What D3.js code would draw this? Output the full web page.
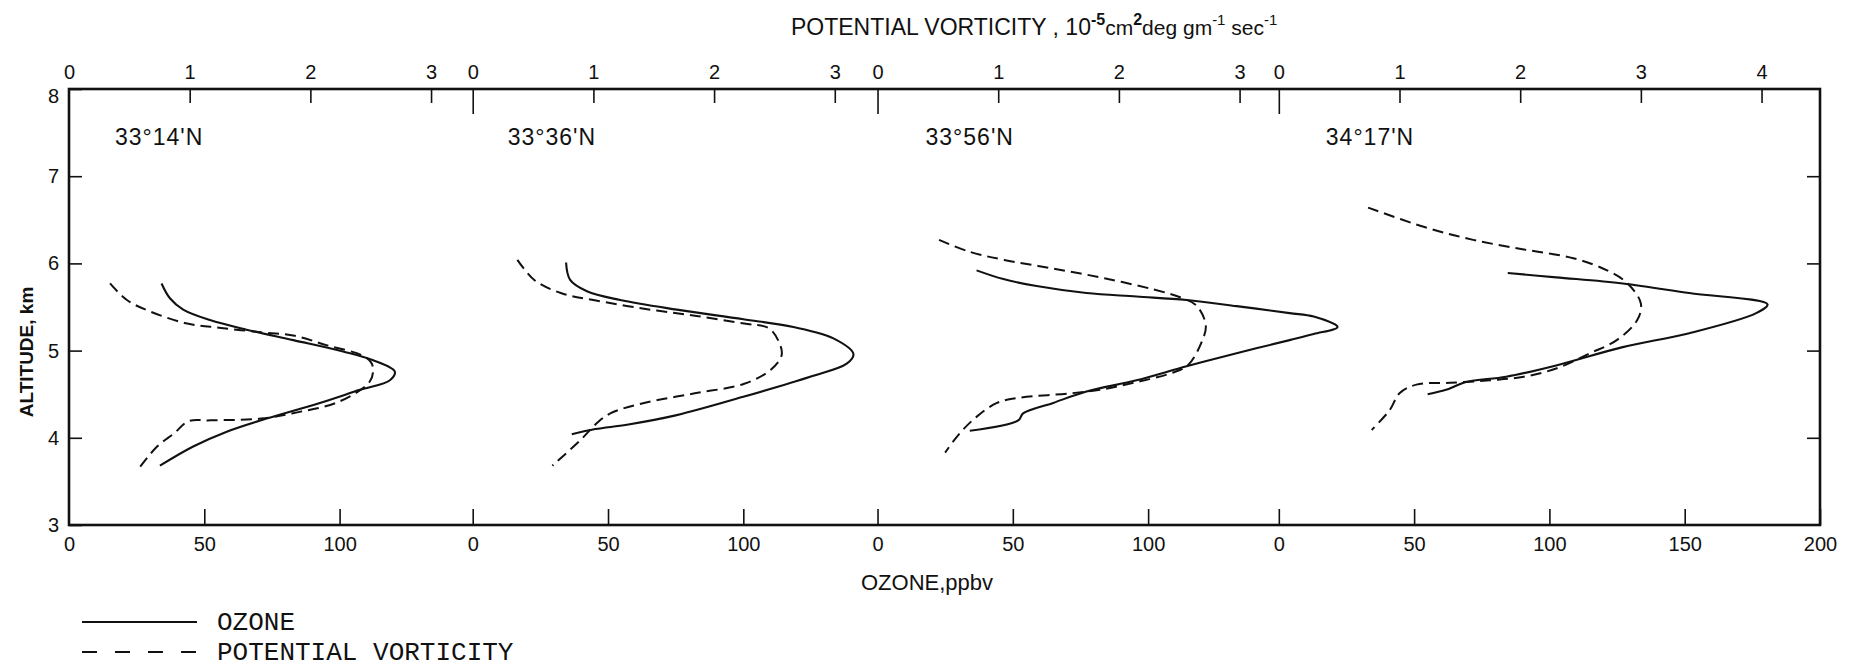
<!DOCTYPE html>
<html>
<head>
<meta charset="utf-8">
<script src="https://cdn.jsdelivr.net/npm/d3@7"></script>
<style>
  body { margin: 0; background: #fff; }
  svg { display: block; }
</style>
</head>
<body>
<svg id="chart" width="1857" height="668"></svg>
<script>
// Sounding stations, west to east
const stations = ["33°14'N", "33°36'N", "33°56'N", "34°17'N"];

// Ozone value (ppbv) on the shared strip where each station's zero sits
const panelStart = [0, 149.2, 298.8, 447.1];
const stripEnd = 647.1;
// ppbv width of one potential-vorticity unit on the common strip
const ppbvPerPv = 44.6;

const ozoneTicks = [[0, 50, 100], [0, 50, 100], [0, 50, 100], [0, 50, 100, 150, 200]];
const pvTicks = [[0, 1, 2, 3], [0, 1, 2, 3], [0, 1, 2, 3], [0, 1, 2, 3, 4]];
const altitudeTicks = [3, 4, 5, 6, 7, 8];

// Profiles: [value, altitude km]; ozone in ppbv, PV in 10^-5 cm2 deg g-1 s-1
const ozone3314 = [[34.2,5.77],[37.3,5.60],[42.2,5.47],[52.1,5.35],[65.6,5.24],[82.9,5.12],[101.3,4.99],[112.4,4.89],[120.4,4.76],[118.6,4.66],[107.5,4.55],[92.7,4.40],[73.0,4.22],[58.3,4.07],[45.9,3.90],[33.6,3.68]];
const pv3314 = [[0.34,5.77],[0.48,5.58],[0.67,5.45],[0.98,5.31],[1.26,5.26],[1.59,5.21],[1.87,5.17],[2.14,5.06],[2.42,4.95],[2.50,4.87],[2.52,4.78],[2.49,4.64],[2.23,4.41],[1.92,4.30],[1.59,4.22],[1.17,4.20],[0.99,4.19],[0.87,4.05],[0.73,3.90],[0.58,3.65]];

const ozone3336 = [[34.5,6.01],[36.0,5.81],[42.2,5.68],[54.5,5.58],[75.4,5.47],[100.0,5.36],[118.5,5.27],[133.3,5.14],[140.7,4.96],[138.2,4.85],[124.7,4.70],[100.0,4.47],[75.4,4.26],[57.0,4.15],[45.3,4.10],[36.6,4.04]];
const pv3336 = [[0.37,6.04],[0.51,5.81],[0.73,5.66],[1.00,5.58],[1.42,5.48],[1.84,5.40],[2.25,5.31],[2.45,5.26],[2.53,5.12],[2.56,4.95],[2.47,4.78],[2.25,4.62],[1.84,4.51],[1.42,4.40],[1.14,4.28],[1.03,4.17],[0.89,3.97],[0.66,3.68]];

const ozone3356 = [[36.6,5.92],[46.5,5.82],[58.8,5.74],[77.2,5.66],[95.7,5.62],[114.2,5.58],[132.7,5.51],[152.3,5.43],[161.2,5.39],[170.0,5.27],[161.2,5.19],[152.3,5.12],[132.7,4.97],[114.2,4.82],[95.7,4.66],[77.2,4.53],[64.9,4.40],[53.8,4.28],[52.0,4.20],[34.1,4.08]];
const pv3356 = [[0.51,6.27],[0.77,6.13],[1.05,6.04],[1.46,5.94],[1.88,5.83],[2.29,5.70],[2.49,5.62],[2.64,5.52],[2.72,5.29],[2.68,5.08],[2.57,4.83],[2.43,4.74],[2.15,4.64],[1.88,4.56],[1.60,4.51],[1.18,4.46],[0.99,4.40],[0.82,4.24],[0.68,4.05],[0.56,3.83]];

const ozone3417 = [[84.6,5.89],[102.5,5.84],[127.1,5.77],[151.7,5.66],[180.6,5.53],[176.4,5.43],[151.7,5.20],[127.1,5.04],[102.5,4.83],[84.0,4.70],[69.2,4.64],[61.8,4.55],[55.0,4.50]];
const pv3417 = [[0.74,6.64],[1.20,6.42],[1.61,6.27],[2.03,6.16],[2.44,6.06],[2.72,5.92],[2.89,5.77],[3.00,5.54],[2.97,5.35],[2.80,5.12],[2.58,4.97],[2.31,4.80],[2.03,4.70],[1.75,4.66],[1.42,4.63],[1.14,4.61],[1.00,4.51],[0.92,4.32],[0.77,4.09]];

const ozoneProfiles = [ozone3314, ozone3336, ozone3356, ozone3417];
const pvProfiles = [pv3314, pv3336, pv3356, pv3417];

// ---- layout ----
const frame = { left: 69, right: 1820, top: 89, bottom: 525 };
const nameOffset = [46, 35, 48, 47];   // px from each panel's zero to its station name
const labelFont = "'Liberation Sans', Arial, sans-serif";
const legendFont = "'Liberation Mono', 'Courier New', monospace";
const ink = "#111";

const svg = d3.select("#chart");

const strip = d3.scaleLinear().domain([0, stripEnd]).range([frame.left, frame.right]);
const y = d3.scaleLinear().domain([3, 8]).range([frame.bottom, frame.top]);

function styleAxis(g, size) {
  g.attr("font-family", labelFont).attr("font-size", size);
  g.selectAll("text").attr("fill", ink);
  g.selectAll("line").attr("stroke", ink).attr("stroke-width", 1.6);
}

stations.forEach((name, i) => {
  const start = panelStart[i];
  const end = i < stations.length - 1 ? panelStart[i + 1] : stripEnd;
  const oz = d3.scaleLinear().domain([0, end - start]).range([strip(start), strip(end)]);
  const pv = d3.scaleLinear().domain([0, (end - start) / ppbvPerPv]).range(oz.range());

  // potential vorticity axis along the top
  const topAxis = svg.append("g")
    .attr("transform", `translate(0,${frame.top})`)
    .call(d3.axisTop(pv).tickValues(pvTicks[i]).tickSize(-14).tickPadding(10).tickFormat(d3.format("d")));
  topAxis.select(".domain").remove();
  styleAxis(topAxis, 20);
  topAxis.selectAll(".tick line").attr("y2", d => d === 0 ? (i === 0 ? 0 : 25) : 14);

  // ozone axis along the bottom
  const bottomAxis = svg.append("g")
    .attr("transform", `translate(0,${frame.bottom})`)
    .call(d3.axisBottom(oz).tickValues(ozoneTicks[i]).tickSize(-16).tickPadding(12).tickFormat(d3.format("d")));
  bottomAxis.select(".domain").remove();
  styleAxis(bottomAxis, 20);
  if (i === 0) bottomAxis.selectAll(".tick line").filter(d => d === 0).remove();

  // station name
  svg.append("text")
    .attr("x", oz(0) + nameOffset[i])
    .attr("y", 145)
    .attr("font-family", labelFont)
    .attr("font-size", 23)
    .attr("letter-spacing", 1)
    .attr("fill", ink)
    .text(name);

  const ozoneLine = d3.line().x(d => oz(d[0])).y(d => y(d[1])).curve(d3.curveCatmullRom.alpha(0.5));
  const pvLine = d3.line().x(d => pv(d[0])).y(d => y(d[1])).curve(d3.curveCatmullRom.alpha(0.5));

  svg.append("path")
    .datum(pvProfiles[i])
    .attr("d", pvLine)
    .attr("fill", "none")
    .attr("stroke", ink)
    .attr("stroke-width", 2)
    .attr("stroke-dasharray", "11,6");

  svg.append("path")
    .datum(ozoneProfiles[i])
    .attr("d", ozoneLine)
    .attr("fill", "none")
    .attr("stroke", ink)
    .attr("stroke-width", 2.1);
});

// altitude axes
const leftAxis = svg.append("g")
  .attr("transform", `translate(${frame.left},0)`)
  .call(d3.axisLeft(y).tickValues(altitudeTicks).tickSize(-13).tickPadding(10).tickFormat(d3.format("d")));
leftAxis.select(".domain").remove();
styleAxis(leftAxis, 20);
leftAxis.selectAll(".tick text").filter(d => d === 8).attr("dy", "0.65em");

const rightAxis = svg.append("g")
  .attr("transform", `translate(${frame.right},0)`)
  .call(d3.axisRight(y).tickValues(altitudeTicks.filter(v => v > 3 && v < 8)).tickSize(-13).tickFormat(""));
rightAxis.select(".domain").remove();
styleAxis(rightAxis, 20);

// plot frame
svg.append("rect")
  .attr("x", frame.left).attr("y", frame.top)
  .attr("width", frame.right - frame.left).attr("height", frame.bottom - frame.top)
  .attr("fill", "none").attr("stroke", ink).attr("stroke-width", 2.6);

// axis titles
const pvTitle = svg.append("text")
  .attr("x", 791).attr("y", 35)
  .attr("font-family", labelFont).attr("font-size", 23).attr("fill", ink);
pvTitle.append("tspan").text("POTENTIAL VORTICITY , 10");
pvTitle.append("tspan").attr("dy", -10).attr("font-size", 16).attr("font-weight", "bold").text("-5");
pvTitle.append("tspan").attr("dy", 10).attr("font-size", 21).text("cm");
pvTitle.append("tspan").attr("dy", -10).attr("font-size", 16).attr("font-weight", "bold").text("2");
pvTitle.append("tspan").attr("dy", 10).attr("font-size", 21).text("deg gm");
pvTitle.append("tspan").attr("dy", -10).attr("font-size", 15).text("-1");
pvTitle.append("tspan").attr("dy", 10).attr("font-size", 21).text(" sec");
pvTitle.append("tspan").attr("dy", -10).attr("font-size", 15).text("-1");

svg.append("text")
  .attr("x", 861).attr("y", 590)
  .attr("font-family", labelFont).attr("font-size", 22).attr("fill", ink)
  .text("OZONE,ppbv");

svg.append("text")
  .attr("transform", `translate(26,352) rotate(-90)`)
  .attr("text-anchor", "middle")
  .attr("dy", "0.35em")
  .attr("font-family", labelFont).attr("font-size", 19).attr("font-weight", "bold").attr("fill", ink)
  .text("ALTITUDE, km");

// legend
const legendItems = [
  { label: "OZONE", dash: null, y: 622 },
  { label: "POTENTIAL VORTICITY", dash: "15,18", y: 652 }
];
const legend = svg.append("g");
legend.selectAll("line")
  .data(legendItems)
  .join("line")
  .attr("x1", 82).attr("x2", 197)
  .attr("y1", d => d.y).attr("y2", d => d.y)
  .attr("stroke", ink).attr("stroke-width", 2)
  .attr("stroke-dasharray", d => d.dash);
legend.selectAll("text")
  .data(legendItems)
  .join("text")
  .attr("x", 217).attr("y", d => d.y + 8)
  .attr("font-family", legendFont).attr("font-size", 26)
  .attr("fill", ink)
  .text(d => d.label);
</script>
</body>
</html>
